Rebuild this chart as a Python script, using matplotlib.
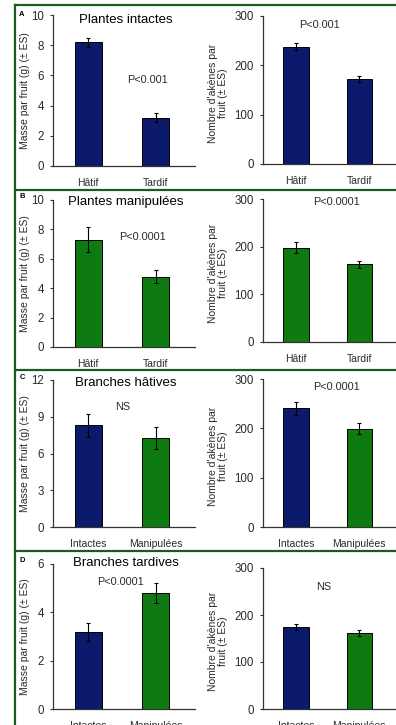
"""
Masse et nombre d'akenes par fruit, quatre panneaux A-D
"""
import matplotlib
matplotlib.use('Agg')
import matplotlib.pyplot as plt
from matplotlib.lines import Line2D

W, H = 396, 725

NAVY = '#0b1a6b'
GREEN = '#0f7a12'
FRAME = '#1d5a1d'
TXT = '#2a2a2a'

plt.rcParams['font.family'] = ['Liberation Sans', 'DejaVu Sans']

# ---- data ----
panel_letters = ['A', 'B', 'C', 'D']
panel_titles = ['Plantes intactes', 'Plantes manipulées',
                'Branches hâtives', 'Branches tardives']
xlabels_ab = ['Hâtif', 'Tardif']
xlabels_cd = ['Intactes', 'Manipulées']

mass_a = [8.2, 3.2]
mass_a_err = [0.3, 0.3]
mass_b = [7.3, 4.78]
mass_b_err = [0.85, 0.45]
mass_c = [8.3, 7.3]
mass_c_err = [0.95, 0.9]
mass_d = [3.2, 4.8]
mass_d_err = [0.37, 0.43]

akenes_a = [238, 173]
akenes_a_err = [7, 6]
akenes_b = [198, 163]
akenes_b_err = [12, 7]
akenes_c = [241, 199]
akenes_c_err = [13, 11]
akenes_d = [174, 162]
akenes_d_err = [6, 6]

mass_ymax = [10, 10, 12, 6]
mass_yticks = [[0, 2, 4, 6, 8, 10], [0, 2, 4, 6, 8, 10],
               [0, 3, 6, 9, 12], [0, 2, 4, 6]]
akenes_yticks = [0, 100, 200, 300]

mass_p = ['P<0.001', 'P<0.0001', 'NS', 'P<0.0001']
akenes_p = ['P<0.001', 'P<0.0001', 'P<0.0001', 'NS']


def px_box(x0, y_top, x1, y_bot):
    """pixel box (top-left origin) -> figure fraction rect"""
    return [x0 / W, 1 - y_bot / H, (x1 - x0) / W, (y_bot - y_top) / H]


def style_axes(ax, ymax, yticks, xlabels):
    for s in ['top', 'right']:
        ax.spines[s].set_visible(False)
    for s in ['left', 'bottom']:
        ax.spines[s].set_color('#333333')
        ax.spines[s].set_linewidth(0.9)
    ax.set_xlim(-0.52, 1.58)
    ax.set_ylim(0, ymax)
    ax.set_yticks(yticks)
    ax.set_xticks([0, 1])
    ax.set_xticklabels(xlabels)
    ax.tick_params(axis='y', length=2.5, width=0.8, pad=4, labelsize=8.3,
                   colors='#333333', labelcolor=TXT)
    ax.tick_params(axis='x', length=0, pad=8.5, labelsize=7.5, labelcolor=TXT)


def draw_bars(ax, vals, errs, colors):
    ax.bar([0, 1], vals, width=0.4, color=colors, edgecolor='black',
           linewidth=0.7, zorder=2)
    ax.errorbar([0, 1], vals, yerr=errs, fmt='none', ecolor='black',
                elinewidth=0.8, capsize=1.5, capthick=0.8, zorder=3)


def main():
    fig = plt.figure(figsize=(W / 100, H / 100), dpi=100)

    mass = [mass_a, mass_b, mass_c, mass_d]
    mass_err = [mass_a_err, mass_b_err, mass_c_err, mass_d_err]
    akenes = [akenes_a, akenes_b, akenes_c, akenes_d]
    akenes_err = [akenes_a_err, akenes_b_err, akenes_c_err, akenes_d_err]

    # pixel geometry of each panel: (left axes top, bottom), (right axes top, bottom)
    left_y = [(15, 166), (200, 347), (380, 527), (564, 709)]
    right_y = [(16, 164), (199, 342), (379, 527), (568, 709)]
    title_y = [20, 202, 383, 563]
    letter_y = [15, 197, 378, 560]
    pl_pos = [(147, 80), (142, 237), (123, 407), (120, 582)]
    pr_pos = [(320, 25), (336, 202), (337, 387), (324, 587)]

    for i in range(4):
        if i == 0:
            cols = [NAVY, NAVY]
        elif i == 1:
            cols = [GREEN, GREEN]
        else:
            cols = [NAVY, GREEN]
        xl = xlabels_ab if i < 2 else xlabels_cd

        axl = fig.add_axes(px_box(53, left_y[i][0], 195, left_y[i][1]))
        draw_bars(axl, mass[i], mass_err[i], cols)
        style_axes(axl, mass_ymax[i], mass_yticks[i], xl)

        axr = fig.add_axes(px_box(263, right_y[i][0], 396, right_y[i][1]))
        draw_bars(axr, akenes[i], akenes_err[i], cols)
        style_axes(axr, 300, akenes_yticks, xl)

        yc_l = (left_y[i][0] + left_y[i][1]) / 2
        yc_r = (right_y[i][0] + right_y[i][1]) / 2 + 3
        fig.text(25 / W, 1 - yc_l / H, 'Masse par fruit (g) (± ES)',
                 rotation=90, ha='center', va='center', fontsize=7.5, color=TXT)
        fig.text(218 / W, 1 - yc_r / H, "Nombre d'akènes par\nfruit (± ES)",
                 rotation=90, ha='center', va='center', fontsize=7.5,
                 color=TXT, linespacing=1.0, multialignment='center')

        fig.text(126 / W, 1 - title_y[i] / H, panel_titles[i],
                 ha='center', va='center', fontsize=9.5, color='black')
        fig.text(22 / W, 1 - letter_y[i] / H, panel_letters[i],
                 ha='center', va='center', fontsize=5.5, fontweight='bold')
        fig.text(pl_pos[i][0] / W, 1 - pl_pos[i][1] / H, mass_p[i],
                 ha='center', va='center', fontsize=7.8, color=TXT)
        fig.text(pr_pos[i][0] / W, 1 - pr_pos[i][1] / H, akenes_p[i],
                 ha='center', va='center', fontsize=7.8, color=TXT)

    # green frame around the panels
    for yl in [5, 190, 370, 551]:
        fig.add_artist(Line2D([15 / W, 1], [1 - yl / H, 1 - yl / H],
                              color=FRAME, linewidth=1.6))
    fig.add_artist(Line2D([15 / W, 15 / W], [1 - 5 / H, 0],
                          color=FRAME, linewidth=1.6))

    fig.savefig('out.png', dpi=100)
    plt.close(fig)


if __name__ == '__main__':
    main()
